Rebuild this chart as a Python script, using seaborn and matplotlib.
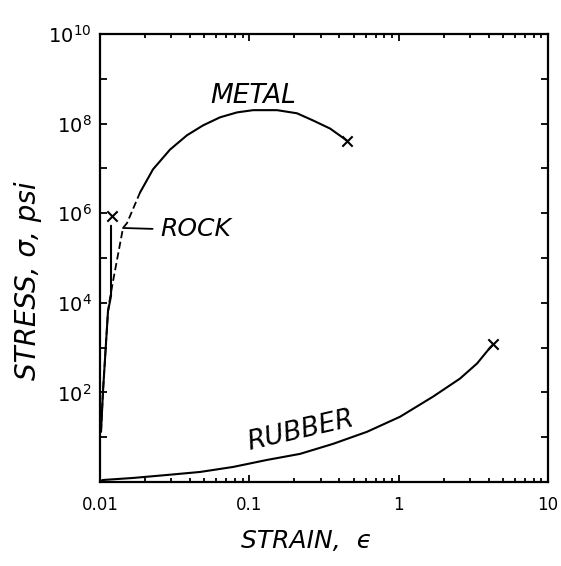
import numpy as np
import pandas as pd
import matplotlib
matplotlib.use("Agg")
import matplotlib.pyplot as plt
import matplotlib.ticker as mticker
import seaborn as sns

# ---- data (strain, and stress as log10(psi)) ----
metal_strain = [0.01853, 0.02265, 0.02944, 0.03826, 0.04897, 0.06364, 0.08274,
                0.1059, 0.1534, 0.2086, 0.2671, 0.3470, 0.4510]
metal_logstress = [6.46, 6.98, 7.42, 7.74, 7.96, 8.14, 8.25,
                   8.30, 8.30, 8.23, 8.07, 7.89, 7.62]
metal_low_strain = [0.01016, 0.01047, 0.01131, 0.01166, 0.01222, 0.01426, 0.01517, 0.01853]
metal_low_logstress = [1.12, 2.02, 3.81, 4.10, 4.48, 5.67, 5.78, 6.46]

rock_strain = [0.01016, 0.01047, 0.01131, 0.01185, 0.01185]
rock_logstress = [1.12, 2.02, 3.81, 4.15, 5.72]
rock_break_strain = 0.01203
rock_break_logstress = 5.94

rubber_strain = [0.01000, 0.01047, 0.01663, 0.02812, 0.04677, 0.07780, 0.1315, 0.2188,
                 0.3641, 0.6142, 1.022, 1.700, 2.576, 3.350, 4.093, 4.29]
rubber_logstress = [0.02, 0.045, 0.09, 0.157, 0.224, 0.336, 0.493, 0.628,
                    0.852, 1.121, 1.457, 1.906, 2.309, 2.646, 3.00, 3.07]

x_ticks = [0.01, 0.1, 1, 10]
x_tick_labels = ["0.01", "0.1", "1", "10"]
y_label_exps = [2, 4, 6, 8, 10]

sns.set_style("ticks")
plt.rcParams['font.family'] = ['DejaVu Sans']
for k in ["text.color", "axes.labelcolor", "xtick.color", "ytick.color", "axes.edgecolor"]:
    plt.rcParams[k] = "black"

fig = plt.figure(figsize=(5.61, 5.66), dpi=100)
ax = fig.add_axes([100/561, 1-482/566, 448/561, 448/566])

def df(xs, ls):
    return pd.DataFrame({"strain": xs, "stress": [10**v for v in ls]})

lw = 1.5
sns.lineplot(data=df(metal_strain, metal_logstress), x="strain", y="stress",
             sort=False, estimator=None, color="black", lw=lw, ax=ax)
sns.lineplot(data=df(metal_low_strain, metal_low_logstress), x="strain", y="stress",
             sort=False, estimator=None, color="black", lw=1.3, ls=(0, (4, 2)), ax=ax)
sns.lineplot(data=df(rock_strain, rock_logstress), x="strain", y="stress",
             sort=False, estimator=None, color="black", lw=lw, ax=ax)
sns.lineplot(data=df(rubber_strain, rubber_logstress), x="strain", y="stress",
             sort=False, estimator=None, color="black", lw=lw, ax=ax)

# break markers
ends = pd.DataFrame({
    "strain": [metal_strain[-1], rubber_strain[-1], rock_break_strain],
    "stress": [10**metal_logstress[-1], 10**rubber_logstress[-1], 10**rock_break_logstress],
})
sns.scatterplot(data=ends, x="strain", y="stress", marker="x", s=55,
                color="black", linewidth=1.5, ax=ax, zorder=5)

# rock leader line
ax.plot([0.01426, 0.0225], [10**5.67, 10**5.65], color="black", lw=1.3)

ax.set_xscale("log")
ax.set_yscale("log")
ax.set_xlim(0.01, 10)
ax.set_ylim(1, 1e10)

ax.set_xticks(x_ticks)
ax.set_xticklabels(x_tick_labels)
ax.xaxis.set_minor_locator(mticker.LogLocator(base=10, subs=np.arange(2, 10), numticks=20))
ax.xaxis.set_minor_formatter(mticker.NullFormatter())

ax.set_yticks([10.0**e for e in range(0, 11)])
ax.set_yticklabels(["" if e not in y_label_exps else f"$10^{{{e}}}$" for e in range(0, 11)])
ax.yaxis.set_minor_locator(mticker.NullLocator())

ax.tick_params(which="both", direction="in", top=True, right=True, width=1.3, colors="black")
ax.tick_params(axis="x", which="major", length=5, labelsize=12, pad=10)
ax.tick_params(axis="y", which="major", length=5, labelsize=14, pad=6)
ax.tick_params(which="minor", length=3)
for s in ax.spines.values():
    s.set_linewidth(1.6)
    s.set_color("black")

txt = dict(style="italic", color="black")
ax.text(0.0546, 10**8.45, "METAL", fontsize=19, **txt)
ax.text(0.0255, 10**5.65, "ROCK", va="center", fontsize=18, **txt)
ax.text(0.093, 10**0.72, "RUBBER", rotation=13, fontsize=19, **txt)

ax.set_xlabel("STRAIN,  ϵ", fontsize=18, style="italic")
ax.xaxis.set_label_coords(0.46, -0.105)
ax.set_ylabel("STRESS, σ, psi", fontsize=20, style="italic")
ax.yaxis.set_label_coords(-0.13, 0.45)

fig.savefig("out.png", dpi=100, facecolor="white")
